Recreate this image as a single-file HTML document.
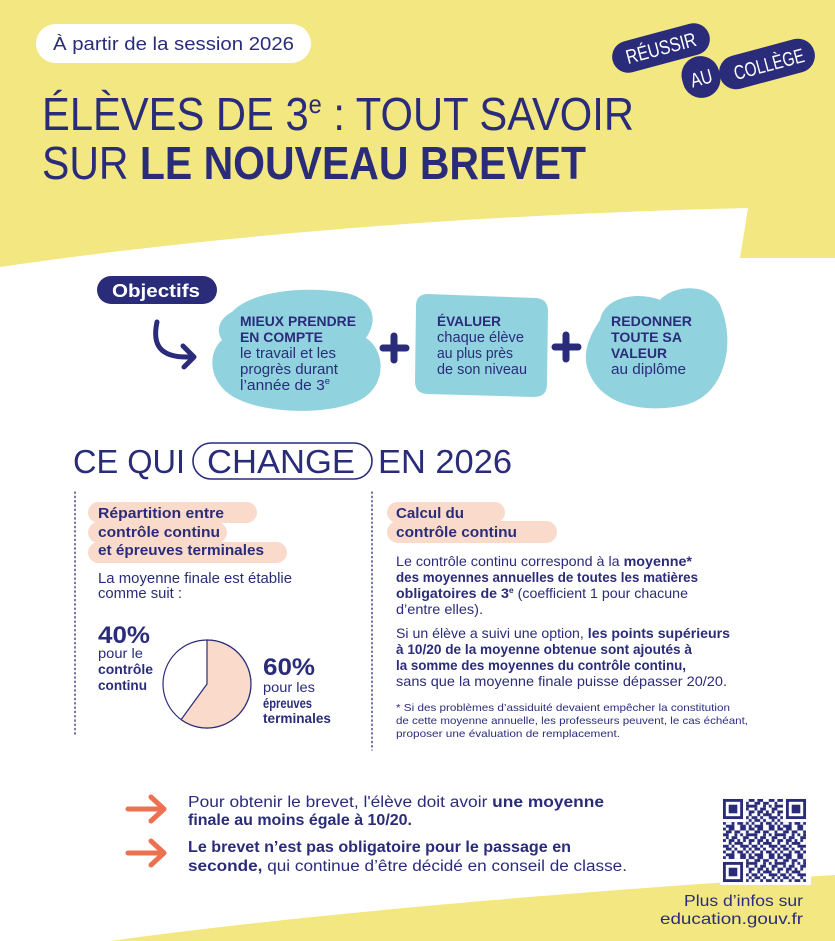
<!DOCTYPE html>
<html><head><meta charset="utf-8">
<style>
html,body{margin:0;padding:0;background:#fff;}
svg{display:block;}
text{font-family:"Liberation Sans",sans-serif;fill:#2A2C7A;}
.b{font-weight:bold;}
</style></head>
<body>
<svg width="835" height="941" viewBox="0 0 835 941" xmlns="http://www.w3.org/2000/svg">
<defs>
<pattern id="qr" patternUnits="userSpaceOnUse" width="10" height="10" patternTransform="translate(723,799) scale(2.862)">
<rect width="10" height="10" fill="#fff"/>
<g fill="#2A2C7A">
<rect x="0" y="0" width="1" height="1"/><rect x="2" y="0" width="2" height="1"/><rect x="6" y="0" width="2" height="1"/><rect x="9" y="0" width="1" height="1"/>
<rect x="1" y="1" width="2" height="1"/><rect x="4" y="1" width="2" height="1"/><rect x="8" y="1" width="1" height="1"/>
<rect x="0" y="2" width="2" height="1"/><rect x="4" y="2" width="1" height="1"/><rect x="6" y="2" width="1" height="1"/><rect x="8" y="2" width="2" height="1"/>
<rect x="1" y="3" width="1" height="1"/><rect x="3" y="3" width="2" height="1"/><rect x="7" y="3" width="2" height="1"/>
<rect x="0" y="4" width="1" height="1"/><rect x="2" y="4" width="2" height="1"/><rect x="5" y="4" width="1" height="1"/><rect x="7" y="4" width="1" height="1"/><rect x="9" y="4" width="1" height="1"/>
<rect x="2" y="5" width="1" height="1"/><rect x="4" y="5" width="3" height="1"/><rect x="9" y="5" width="1" height="1"/>
<rect x="0" y="6" width="2" height="1"/><rect x="3" y="6" width="1" height="1"/><rect x="6" y="6" width="3" height="1"/>
<rect x="1" y="7" width="2" height="1"/><rect x="4" y="7" width="1" height="1"/><rect x="7" y="7" width="1" height="1"/><rect x="9" y="7" width="1" height="1"/>
<rect x="0" y="8" width="1" height="1"/><rect x="3" y="8" width="1" height="1"/><rect x="5" y="8" width="2" height="1"/><rect x="8" y="8" width="1" height="1"/>
<rect x="1" y="9" width="3" height="1"/><rect x="6" y="9" width="2" height="1"/><rect x="9" y="9" width="1" height="1"/>
</g>
</pattern>
</defs>

<!-- backgrounds -->
<rect width="835" height="941" fill="#fff"/>
<path d="M0,0 H835 V258 H740 L748,208 C450,215 200,238 0,267 Z" fill="#F3E782"/>
<path d="M110,941 C300,915 550,893 835,875 V941 Z" fill="#F3E782"/>

<!-- session pill -->
<rect x="36" y="24" width="275" height="39" rx="19.5" fill="#fff"/>
<text x="53" y="50" font-size="18.5" textLength="241" lengthAdjust="spacingAndGlyphs">À partir de la session 2026</text>

<!-- logo -->
<g fill="#2A2C7A">
<g transform="translate(661,48) rotate(-15)"><rect x="-50" y="-16" width="100" height="32" rx="16"/></g>
<g transform="translate(701,77) rotate(-15)"><rect x="-19" y="-21" width="38" height="42" rx="19"/></g>
<g transform="translate(767,64) rotate(-15)"><rect x="-49" y="-17" width="98" height="34" rx="17"/></g>
</g>
<g transform="translate(661,48) rotate(-15)"><text x="-36" y="7" font-size="20" fill="#fff" style="fill:#fff" textLength="72" lengthAdjust="spacingAndGlyphs">RÉUSSIR</text></g>
<g transform="translate(701,77) rotate(-15)"><text x="-11" y="8" font-size="20" style="fill:#fff" textLength="22" lengthAdjust="spacingAndGlyphs">AU</text></g>
<g transform="translate(769,64) rotate(-15)"><text x="-36" y="7" font-size="20" style="fill:#fff" textLength="72" lengthAdjust="spacingAndGlyphs">COLLÈGE</text></g>

<!-- title -->
<text x="42" y="130" font-size="46" textLength="592" lengthAdjust="spacingAndGlyphs">ÉLÈVES DE 3<tspan font-size="26" dy="-17">e</tspan><tspan dy="17"> : TOUT SAVOIR</tspan></text>
<text x="42" y="179" font-size="46" textLength="544" lengthAdjust="spacingAndGlyphs">SUR <tspan class="b">LE NOUVEAU BREVET</tspan></text>

<!-- objectifs -->
<rect x="97" y="276" width="120" height="28" rx="14" fill="#2A2C7A"/>
<text x="112" y="297" font-size="18" class="b" style="fill:#fff" textLength="88" lengthAdjust="spacingAndGlyphs">Objectifs</text>
<path d="M157,322 C152,345 160,358 190,357" fill="none" stroke="#2A2C7A" stroke-width="5" stroke-linecap="round"/>
<path d="M183,346 L194,357 L184,367" fill="none" stroke="#2A2C7A" stroke-width="5" stroke-linecap="round" stroke-linejoin="round"/>

<path d="M232,312 C250,292 300,286 340,292 C372,296 380,318 366,338 C385,350 388,385 360,400 C330,415 270,414 240,400 C210,388 205,355 222,340 C215,330 220,318 232,312 Z" fill="#91D2DF"/>
<path d="M428,294 L536,298 Q548,299 548,311 L547,384 Q547,397 534,397 L428,394 Q415,394 415,381 L416,306 Q416,294 428,294 Z" fill="#91D2DF"/>
<path d="M600,320 C605,295 640,292 660,300 C675,283 715,283 722,310 C735,345 725,395 685,405 C650,413 605,408 590,375 C580,355 590,335 600,320 Z" fill="#91D2DF"/>

<g stroke="#2A2C7A" stroke-width="7" stroke-linecap="round">
<path d="M383,348 H406 M394,336 V360"/>
<path d="M555,347 H578 M566,335 V359"/>
</g>

<text x="240" y="326" font-size="14" class="b" textLength="116" lengthAdjust="spacingAndGlyphs">MIEUX PRENDRE</text>
<text x="240" y="342" font-size="14" class="b" textLength="83" lengthAdjust="spacingAndGlyphs">EN COMPTE</text>
<text x="240" y="358" font-size="15" textLength="96" lengthAdjust="spacingAndGlyphs">le travail et les</text>
<text x="240" y="374" font-size="15" textLength="98" lengthAdjust="spacingAndGlyphs">progrès durant</text>
<text x="240" y="390" font-size="15" textLength="90" lengthAdjust="spacingAndGlyphs">l’année de 3<tspan font-size="9" dy="-6">e</tspan></text>

<text x="437" y="326" font-size="14" class="b" textLength="64" lengthAdjust="spacingAndGlyphs">ÉVALUER</text>
<text x="437" y="342" font-size="15" textLength="87" lengthAdjust="spacingAndGlyphs">chaque élève</text>
<text x="437" y="358" font-size="15" textLength="76" lengthAdjust="spacingAndGlyphs">au plus près</text>
<text x="437" y="374" font-size="15" textLength="90" lengthAdjust="spacingAndGlyphs">de son niveau</text>

<text x="611" y="326" font-size="14" class="b" textLength="81" lengthAdjust="spacingAndGlyphs">REDONNER</text>
<text x="611" y="342" font-size="14" class="b" textLength="71" lengthAdjust="spacingAndGlyphs">TOUTE SA</text>
<text x="611" y="358" font-size="14" class="b" textLength="56" lengthAdjust="spacingAndGlyphs">VALEUR</text>
<text x="611" y="374" font-size="15" textLength="75" lengthAdjust="spacingAndGlyphs">au diplôme</text>

<!-- CE QUI CHANGE -->
<text x="73" y="473" font-size="33" textLength="112" lengthAdjust="spacingAndGlyphs">CE QUI</text>
<rect x="193" y="443" width="179" height="36" rx="18" fill="none" stroke="#2A2C7A" stroke-width="1.6"/>
<text x="207" y="473" font-size="33" textLength="148" lengthAdjust="spacingAndGlyphs">CHANGE</text>
<text x="378" y="473" font-size="33" textLength="134" lengthAdjust="spacingAndGlyphs">EN 2026</text>

<g stroke="#2A2C7A" stroke-width="1.3" stroke-dasharray="1.3 3" stroke-linecap="round">
<line x1="75" y1="492" x2="75" y2="735"/>
<line x1="372" y1="492" x2="372" y2="750"/>
</g>

<!-- left column -->
<g fill="#FADBCB">
<rect x="88" y="502" width="169" height="21" rx="10.5"/>
<rect x="88" y="522" width="139" height="21" rx="10.5"/>
<rect x="88" y="542" width="199" height="21" rx="10.5"/>
</g>
<text x="98" y="518" font-size="14.5" class="b" textLength="126" lengthAdjust="spacingAndGlyphs">Répartition entre</text>
<text x="98" y="537" font-size="14.5" class="b" textLength="122" lengthAdjust="spacingAndGlyphs">contrôle continu</text>
<text x="98" y="555" font-size="14.5" class="b" textLength="166" lengthAdjust="spacingAndGlyphs">et épreuves terminales</text>
<text x="98" y="583" font-size="14.5" textLength="194" lengthAdjust="spacingAndGlyphs">La moyenne finale est établie</text>
<text x="98" y="598" font-size="14.5" textLength="84" lengthAdjust="spacingAndGlyphs">comme suit :</text>

<text x="98" y="643" font-size="24" class="b" textLength="52" lengthAdjust="spacingAndGlyphs">40%</text>
<text x="98" y="658" font-size="14" textLength="45" lengthAdjust="spacingAndGlyphs">pour le</text>
<text x="98" y="674" font-size="14" class="b" textLength="55" lengthAdjust="spacingAndGlyphs">contrôle</text>
<text x="98" y="690" font-size="14" class="b" textLength="49" lengthAdjust="spacingAndGlyphs">continu</text>

<circle cx="207" cy="684" r="44" fill="#fff" stroke="#2A2C7A" stroke-width="1.2"/>
<path d="M207,684 L207,640 A44,44 0 1 1 181.1,719.6 Z" fill="#FADBCB" stroke="#2A2C7A" stroke-width="1.2" stroke-linejoin="round"/>

<text x="263" y="675" font-size="24" class="b" textLength="52" lengthAdjust="spacingAndGlyphs">60%</text>
<text x="263" y="692" font-size="14" textLength="52" lengthAdjust="spacingAndGlyphs">pour les</text>
<text x="263" y="708" font-size="14" class="b" textLength="49" lengthAdjust="spacingAndGlyphs">épreuves</text>
<text x="263" y="723" font-size="14" class="b" textLength="68" lengthAdjust="spacingAndGlyphs">terminales</text>

<!-- right column -->
<g fill="#FADBCB">
<rect x="387" y="502" width="118" height="21" rx="10.5"/>
<rect x="387" y="521" width="170" height="22" rx="11"/>
</g>
<text x="396" y="518" font-size="14.5" class="b" textLength="68" lengthAdjust="spacingAndGlyphs">Calcul du</text>
<text x="396" y="537" font-size="14.5" class="b" textLength="121" lengthAdjust="spacingAndGlyphs">contrôle continu</text>

<text x="396" y="566" font-size="14" textLength="296" lengthAdjust="spacingAndGlyphs">Le contrôle continu correspond à la <tspan class="b">moyenne*</tspan></text>
<text x="396" y="582" font-size="14" class="b" textLength="302" lengthAdjust="spacingAndGlyphs">des moyennes annuelles de toutes les matières</text>
<text x="396" y="598" font-size="14" textLength="292" lengthAdjust="spacingAndGlyphs"><tspan class="b">obligatoires de 3</tspan><tspan class="b" font-size="8.5" dy="-5">e</tspan><tspan dy="5"> (coefficient 1 pour chacune</tspan></text>
<text x="396" y="614" font-size="14" textLength="87" lengthAdjust="spacingAndGlyphs">d’entre elles).</text>
<text x="396" y="638" font-size="14" textLength="334" lengthAdjust="spacingAndGlyphs">Si un élève a suivi une option, <tspan class="b">les points supérieurs</tspan></text>
<text x="396" y="654" font-size="14" class="b" textLength="296" lengthAdjust="spacingAndGlyphs">à 10/20 de la moyenne obtenue sont ajoutés à</text>
<text x="396" y="670" font-size="14" class="b" textLength="290" lengthAdjust="spacingAndGlyphs">la somme des moyennes du contrôle continu,</text>
<text x="396" y="686" font-size="14" textLength="331" lengthAdjust="spacingAndGlyphs">sans que la moyenne finale puisse dépasser 20/20.</text>

<text x="396" y="711" font-size="10.5" textLength="334" lengthAdjust="spacingAndGlyphs">* Si des problèmes d’assiduité devaient empêcher la constitution</text>
<text x="396" y="724" font-size="10.5" textLength="352" lengthAdjust="spacingAndGlyphs">de cette moyenne annuelle, les professeurs peuvent, le cas échéant,</text>
<text x="396" y="737" font-size="10.5" textLength="224" lengthAdjust="spacingAndGlyphs">proposer une évaluation de remplacement.</text>

<!-- bottom -->
<g fill="none" stroke="#EB7150" stroke-width="5" stroke-linecap="round" stroke-linejoin="round">
<path d="M128,809 H162 M151,797 L164,809 L151,821"/>
<path d="M128,853 H162 M151,841 L164,853 L151,865"/>
</g>
<text x="188" y="807" font-size="15.5" textLength="416" lengthAdjust="spacingAndGlyphs">Pour obtenir le brevet, l'élève doit avoir <tspan class="b">une moyenne</tspan></text>
<text x="188" y="825" font-size="15.5" class="b" textLength="224" lengthAdjust="spacingAndGlyphs">finale au moins égale à 10/20.</text>
<text x="188" y="852" font-size="15.5" class="b" textLength="383" lengthAdjust="spacingAndGlyphs">Le brevet n’est pas obligatoire pour le passage en</text>
<text x="188" y="871" font-size="15.5" textLength="439" lengthAdjust="spacingAndGlyphs"><tspan class="b">seconde,</tspan> qui continue d’être décidé en conseil de classe.</text>

<!-- QR -->
<rect x="720" y="796" width="91" height="89" fill="#fff"/>
<rect x="723" y="799" width="83" height="83" fill="url(#qr)"/>
<g>
<rect x="723" y="799" width="23" height="23" fill="#fff"/>
<rect x="783" y="799" width="23" height="23" fill="#fff"/>
<rect x="723" y="859" width="23" height="23" fill="#fff"/>
<g fill="none" stroke="#2A2C7A" stroke-width="2.86">
<rect x="724.4" y="800.4" width="17.2" height="17.2"/>
<rect x="787.4" y="800.4" width="17.2" height="17.2"/>
<rect x="724.4" y="863.4" width="17.2" height="17.2"/>
</g>
<g fill="#2A2C7A">
<rect x="728.7" y="804.7" width="8.6" height="8.6"/>
<rect x="791.7" y="804.7" width="8.6" height="8.6"/>
<rect x="728.7" y="867.7" width="8.6" height="8.6"/>
</g>
</g>

<text x="684" y="906" font-size="16" textLength="119" lengthAdjust="spacingAndGlyphs">Plus d’infos sur</text>
<text x="660" y="924" font-size="16" textLength="143" lengthAdjust="spacingAndGlyphs">education.gouv.fr</text>
</svg>
</body></html>
